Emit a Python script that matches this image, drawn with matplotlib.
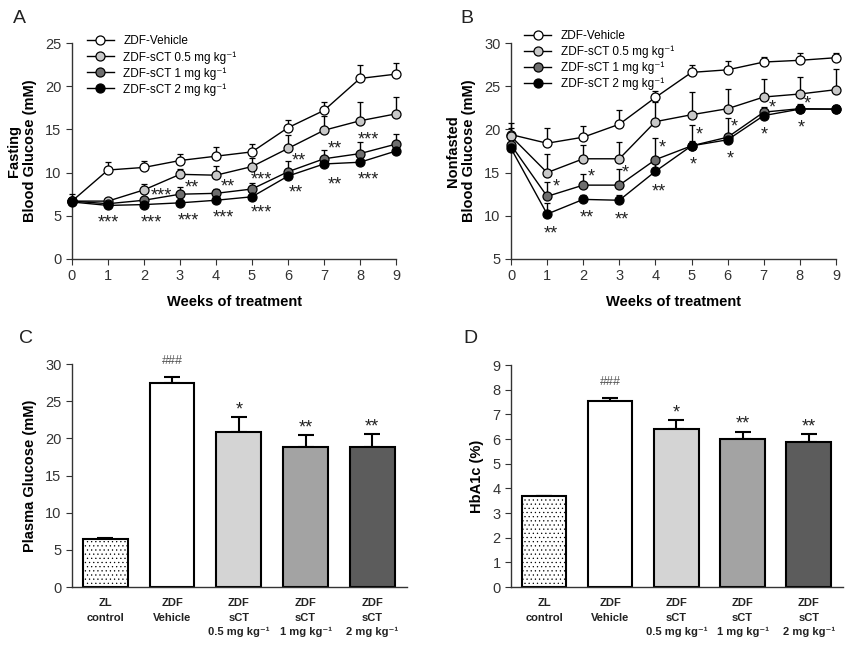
import matplotlib

matplotlib.use("Agg")
import matplotlib.pyplot as plt
import numpy as np

weeks = np.arange(10)
group_labels = [
    "ZDF-Vehicle",
    "ZDF-sCT 0.5 mg kg⁻¹",
    "ZDF-sCT 1 mg kg⁻¹",
    "ZDF-sCT 2 mg kg⁻¹",
]

# panel A: fasting blood glucose (mM), mean and upper SEM
fasting_vehicle = [6.7, 10.3, 10.6, 11.4, 11.9, 12.4, 15.2, 17.2, 20.9, 21.4]
fasting_vehicle_err = [0.8, 0.9, 0.7, 0.8, 1.1, 0.9, 0.9, 1.0, 1.5, 1.3]
fasting_low = [6.7, 6.7, 8.0, 9.8, 9.7, 10.7, 12.8, 14.9, 16.0, 16.8]
fasting_low_err = [0.5, 0.3, 0.7, 0.6, 1.1, 1.0, 1.6, 1.6, 2.2, 2.0]
fasting_mid = [6.7, 6.4, 6.8, 7.5, 7.6, 8.1, 10.1, 11.6, 12.2, 13.3]
fasting_mid_err = [0.4, 0.3, 0.4, 0.8, 0.5, 0.7, 1.3, 1.0, 1.3, 1.2]
fasting_high = [6.6, 6.2, 6.3, 6.5, 6.8, 7.2, 9.6, 11.0, 11.2, 12.5]
fasting_high_err = [0.3, 0.2, 0.2, 0.2, 0.3, 0.3, 0.4, 0.4, 0.4, 0.5]

fasting_stars = ["***", "**", "**", "***", "**", "**", "***", "***",
                 "***", "***", "***", "***", "***", "**", "**", "***", "***"]
fasting_stars_x = [2.49, 3.32, 4.34, 5.27, 6.29, 7.29, 8.23, 9.25,
                   1.01, 2.2, 3.23, 4.2, 5.27, 6.22, 7.29, 8.23, 9.25]
fasting_stars_y = [7.9, 8.8, 8.9, 9.7, 11.9, 13.3, 14.4, 15.3,
                   4.75, 4.75, 5.0, 5.4, 5.9, 8.3, 9.2, 9.8, 10.8]

# panel B: nonfasted blood glucose (mM)
nonfasted_vehicle = [19.4, 18.4, 19.1, 20.6, 23.7, 26.6, 26.9, 27.8, 28.0, 28.3]
nonfasted_vehicle_err = [1.4, 1.8, 1.3, 1.7, 0.7, 0.8, 1.0, 0.6, 0.9, 0.6]
nonfasted_low = [19.2, 15.0, 16.6, 16.6, 20.9, 21.7, 22.4, 23.75, 24.1, 24.6]
nonfasted_low_err = [1.0, 2.1, 1.6, 2.0, 2.3, 2.6, 2.3, 2.1, 2.0, 2.4]
nonfasted_mid = [18.2, 12.25, 13.55, 13.55, 16.5, 18.1, 19.1, 22.0, 22.4, 22.35]
nonfasted_mid_err = [0.8, 1.7, 1.3, 1.9, 2.5, 2.4, 2.2, 0.6, 0.5, 0.5]
nonfasted_high = [17.8, 10.2, 11.9, 11.8, 15.15, 18.1, 18.8, 21.6, 22.35, 22.35]
nonfasted_high_err = [0.6, 1.3, 0.5, 0.6, 1.5, 0.6, 0.6, 0.6, 0.4, 0.4]

nonfasted_stars = ["*"] * 9 + ["**", "**", "**", "**", "*", "*", "*", "*", "*"]
nonfasted_stars_x = [1.24, 2.22, 3.16, 4.2, 5.22, 6.19, 7.23, 8.2, 9.2,
                     1.1, 2.1, 3.07, 4.1, 5.06, 6.07, 7.0, 8.04, 9.15]
nonfasted_stars_y = [13.9, 15.1, 15.6, 18.4, 20.0, 20.9, 23.1, 23.5, 23.8,
                     8.5, 10.3, 10.1, 13.4, 16.5, 17.2, 20.0, 20.8, 20.9]

# panels C and D
bar_labels = [
    "ZL\ncontrol",
    "ZDF\nVehicle",
    "ZDF\nsCT\n0.5 mg kg⁻¹",
    "ZDF\nsCT\n1 mg kg⁻¹",
    "ZDF\nsCT\n2 mg kg⁻¹",
]
plasma_glucose = [6.5, 27.5, 20.9, 18.9, 18.9]
plasma_glucose_err = [0.1, 0.8, 2.0, 1.5, 1.7]
hba1c = [3.68, 7.55, 6.4, 6.0, 5.87]
hba1c_err = [0.03, 0.12, 0.38, 0.3, 0.32]
bar_marks = ["", "###", "*", "**", "**"]

plt.rcParams.update(
    {
        "font.family": ["Liberation Sans", "DejaVu Sans"],
        "font.size": 10,
        "axes.edgecolor": "#333333",
        "axes.linewidth": 1.0,
        "xtick.color": "#333333",
        "ytick.color": "#333333",
        "xtick.labelcolor": "#333333",
        "ytick.labelcolor": "#333333",
        "xtick.labelsize": 10.5,
        "ytick.labelsize": 10.5,
        "xtick.major.size": 4,
        "ytick.major.size": 4,
        "hatch.linewidth": 0.4,
        "hatch.color": "#777777",
    }
)

marker_faces = ["white", "#c8c8c8", "#6e6e6e", "black"]
bar_faces = ["white", "white", "#d4d4d4", "#a3a3a3", "#5c5c5c"]


def line_panel(ax, series, errs, stars, stars_x, stars_y, ylim, ylabel, legend_anchor):
    for values, err, face, label in zip(series, errs, marker_faces, group_labels):
        ax.errorbar(
            weeks, values, yerr=[np.zeros(len(err)), err],
            color="black", lw=1.0, elinewidth=1.0, capsize=2.5, capthick=1.0,
            marker="o", markersize=6.5, markerfacecolor=face,
            markeredgecolor="black", markeredgewidth=0.9,
            label=label, clip_on=False, zorder=3,
        )
    for text, x, y in zip(stars, stars_x, stars_y):
        ax.annotate(text, (x, y), xytext=(0, -7), textcoords="offset points",
                    ha="center", va="baseline", fontsize=13, color="#222222")
    ax.set_xlim(0, 9)
    ax.set_ylim(*ylim)
    ax.set_xticks(weeks)
    ax.spines[["top", "right"]].set_visible(False)
    ax.set_xlabel("Weeks of treatment", fontweight="bold", fontsize=10.5, labelpad=8)
    ax.set_ylabel(ylabel, fontweight="bold", fontsize=10.5, labelpad=6)
    handles, labels = ax.get_legend_handles_labels()
    handles = [h[0] for h in handles]
    ax.legend(handles, labels, loc="upper left", bbox_to_anchor=legend_anchor,
              frameon=False, fontsize=8.5, handlelength=2.3, handletextpad=0.8,
              labelspacing=0.3, borderpad=0, borderaxespad=0)


def bar_panel(ax, values, errs, ylim, yticks, ylabel):
    pos = np.arange(len(values))
    bars = ax.bar(pos, values, width=0.67, color=bar_faces, edgecolor="black",
                  linewidth=1.5, zorder=2)
    bars[0].set_hatch("....")
    ax.errorbar(pos, values, yerr=[np.zeros(len(errs)), errs], fmt="none",
                ecolor="black", elinewidth=1.5, capsize=6, capthick=1.5, zorder=1)
    for x, v, e, mark in zip(pos, values, errs, bar_marks):
        if not mark:
            continue
        if mark.startswith("#"):
            ax.annotate(mark, (x, v + e), xytext=(0, 9), textcoords="offset points",
                        ha="center", va="baseline", fontsize=9, color="#555555")
        else:
            ax.annotate(mark, (x, v + e), xytext=(0, 2), textcoords="offset points",
                        ha="center", va="baseline", fontsize=13, color="#222222")
    ax.set_xlim(-0.5, 4.52)
    ax.set_ylim(*ylim)
    ax.set_yticks(yticks)
    ax.set_xticks(pos)
    ax.set_xticklabels(bar_labels, fontweight="bold", fontsize=8, color="#222222",
                       linespacing=1.55)
    ax.tick_params(axis="x", length=0, pad=8)
    ax.spines[["top", "right"]].set_visible(False)
    ax.set_ylabel(ylabel, fontweight="bold", fontsize=10.5, labelpad=6)


fig = plt.figure(figsize=(8.5, 6.47), dpi=100)
ax_a = fig.add_axes([0.0847, 0.5997, 0.3812, 0.3338])
ax_b = fig.add_axes([0.6012, 0.5997, 0.3823, 0.3338])
ax_c = fig.add_axes([0.0847, 0.0927, 0.3941, 0.3447])
ax_d = fig.add_axes([0.6012, 0.0927, 0.3906, 0.3431])

line_panel(
    ax_a,
    [fasting_vehicle, fasting_low, fasting_mid, fasting_high],
    [fasting_vehicle_err, fasting_low_err, fasting_mid_err, fasting_high_err],
    fasting_stars, fasting_stars_x, fasting_stars_y,
    (0, 25), "Fasting\nBlood Glucose (mM)", (0.045, 1.035),
)
line_panel(
    ax_b,
    [nonfasted_vehicle, nonfasted_low, nonfasted_mid, nonfasted_high],
    [nonfasted_vehicle_err, nonfasted_low_err, nonfasted_mid_err, nonfasted_high_err],
    nonfasted_stars, nonfasted_stars_x, nonfasted_stars_y,
    (5, 30), "Nonfasted\nBlood Glucose (mM)", (0.04, 1.06),
)
bar_panel(ax_c, plasma_glucose, plasma_glucose_err, (0, 30), range(0, 31, 5),
          "Plasma Glucose (mM)")
bar_panel(ax_d, hba1c, hba1c_err, (0, 9), range(0, 10), "HbA1c (%)")

for letter, x, y in [("A", 0.015, 0.985), ("B", 0.542, 0.985),
                     ("C", 0.022, 0.49), ("D", 0.545, 0.49)]:
    fig.text(x, y, letter, fontsize=14, va="top", ha="left", color="#222222")

fig.savefig("out.png", dpi=100)
